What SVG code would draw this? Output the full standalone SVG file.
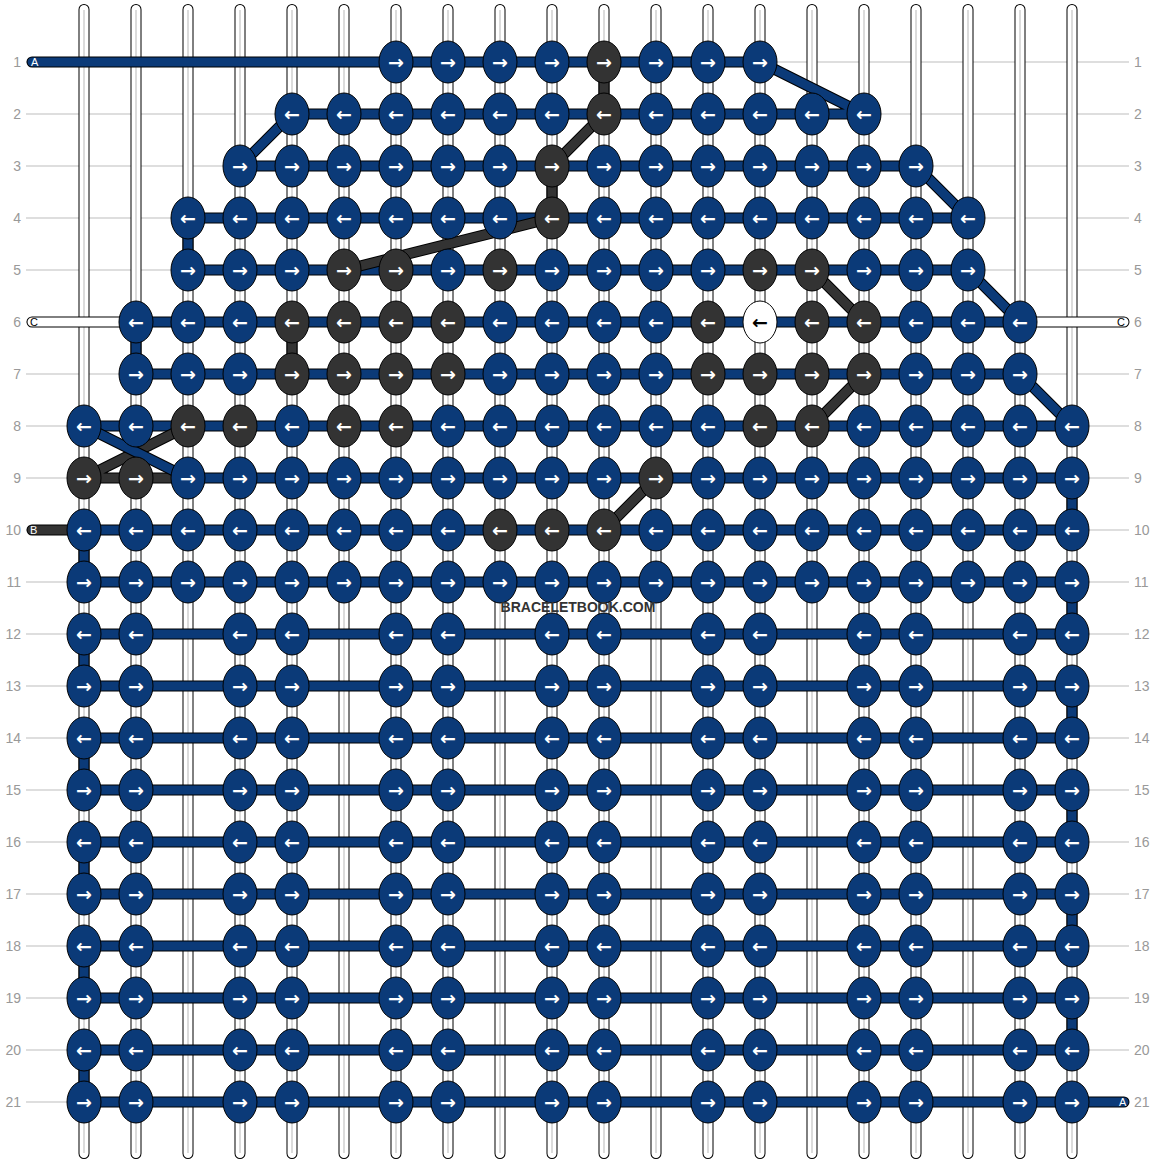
<svg xmlns="http://www.w3.org/2000/svg" xmlns:xlink="http://www.w3.org/1999/xlink" width="1156" height="1164" viewBox="0 0 1156 1164">
<style>
.gl line{stroke:#bdbdbd;stroke-width:1}
.rl text{font-family:'Liberation Sans',Arial,sans-serif;font-size:14px;fill:#999;dominant-baseline:central}
.so{stroke:#000;stroke-width:11;stroke-linecap:round;fill:none}
.sw{stroke:#fff;stroke-width:9;stroke-linecap:round;fill:none}
.sc{stroke:#cfcfcf;stroke-width:1.5;fill:none}
.to{stroke:#000;stroke-width:11;stroke-linecap:round;stroke-linejoin:round;fill:none}
.tb{stroke:#0b3a78;stroke-width:9;stroke-linecap:round;stroke-linejoin:round;fill:none}
.td{stroke:#333;stroke-width:9;stroke-linecap:round;stroke-linejoin:round;fill:none}
.tw{stroke:#fff;stroke-width:9;stroke-linecap:round;stroke-linejoin:round;fill:none}
.tl{font-family:'Liberation Sans',Arial,sans-serif;font-size:11px;dominant-baseline:central}
.n ellipse{stroke:#000;stroke-width:1}
.b ellipse{fill:#0b3a78}
.d ellipse{fill:#333}
.w ellipse{fill:#fff}
.n text{font-family:'DejaVu Sans',sans-serif;font-weight:bold;font-size:19px;fill:#fff;text-anchor:middle;dominant-baseline:central}
.w text{fill:#000}
</style>
<defs>
<path id="pb" d="M32,62H760L864,114H292L240,166H916L968,218H188V270H968L1020,322H136V374H1020L1072,426H84M188,478H1072V530H84V582H1072V634H84V686H1072V738H84V790H1072V842H84V894H1072V946H84V998H1072V1050H84V1102H1124"/>
<path id="pd" d="M604,62V114L552,166V218L344,270M292,322V374M812,270L864,322M864,374L812,426M656,478L604,530M32,530H84M84,478H188M84,478L188,426"/>
<path id="px" d="M84,426L188,478"/>
<path id="pw" d="M32,322H136M1020,322H1124"/>
<path id="ps" d="M84,9.5V1153.5M136,9.5V1153.5M188,9.5V1153.5M240,9.5V1153.5M292,9.5V1153.5M344,9.5V1153.5M396,9.5V1153.5M448,9.5V1153.5M500,9.5V1153.5M552,9.5V1153.5M604,9.5V1153.5M656,9.5V1153.5M708,9.5V1153.5M760,9.5V1153.5M812,9.5V1153.5M864,9.5V1153.5M916,9.5V1153.5M968,9.5V1153.5M1020,9.5V1153.5M1072,9.5V1153.5"/>
<path id="pc" d="M84,10V1153M136,10V1153M188,10V1153M240,10V1153M292,10V1153M344,10V1153M396,10V1153M448,10V1153M500,10V1153M552,10V1153M604,10V1153M656,10V1153M708,10V1153M760,10V1153M812,10V1153M864,10V1153M916,10V1153M968,10V1153M1020,10V1153M1072,10V1153"/>
</defs>
<rect width="1156" height="1164" fill="#fff"/>
<g class="gl">
<line x1="26" y1="62" x2="1129" y2="62"/><line x1="26" y1="114" x2="1129" y2="114"/><line x1="26" y1="166" x2="1129" y2="166"/><line x1="26" y1="218" x2="1129" y2="218"/><line x1="26" y1="270" x2="1129" y2="270"/><line x1="26" y1="322" x2="1129" y2="322"/><line x1="26" y1="374" x2="1129" y2="374"/><line x1="26" y1="426" x2="1129" y2="426"/><line x1="26" y1="478" x2="1129" y2="478"/><line x1="26" y1="530" x2="1129" y2="530"/><line x1="26" y1="582" x2="1129" y2="582"/><line x1="26" y1="634" x2="1129" y2="634"/><line x1="26" y1="686" x2="1129" y2="686"/><line x1="26" y1="738" x2="1129" y2="738"/><line x1="26" y1="790" x2="1129" y2="790"/><line x1="26" y1="842" x2="1129" y2="842"/><line x1="26" y1="894" x2="1129" y2="894"/><line x1="26" y1="946" x2="1129" y2="946"/><line x1="26" y1="998" x2="1129" y2="998"/><line x1="26" y1="1050" x2="1129" y2="1050"/><line x1="26" y1="1102" x2="1129" y2="1102"/>
</g>
<g class="rl">
<g text-anchor="end">
<text x="21" y="62">1</text><text x="21" y="114">2</text><text x="21" y="166">3</text><text x="21" y="218">4</text><text x="21" y="270">5</text><text x="21" y="322">6</text><text x="21" y="374">7</text><text x="21" y="426">8</text><text x="21" y="478">9</text><text x="21" y="530">10</text><text x="21" y="582">11</text><text x="21" y="634">12</text><text x="21" y="686">13</text><text x="21" y="738">14</text><text x="21" y="790">15</text><text x="21" y="842">16</text><text x="21" y="894">17</text><text x="21" y="946">18</text><text x="21" y="998">19</text><text x="21" y="1050">20</text><text x="21" y="1102">21</text>
</g>
<g text-anchor="start">
<text x="1134" y="62">1</text><text x="1134" y="114">2</text><text x="1134" y="166">3</text><text x="1134" y="218">4</text><text x="1134" y="270">5</text><text x="1134" y="322">6</text><text x="1134" y="374">7</text><text x="1134" y="426">8</text><text x="1134" y="478">9</text><text x="1134" y="530">10</text><text x="1134" y="582">11</text><text x="1134" y="634">12</text><text x="1134" y="686">13</text><text x="1134" y="738">14</text><text x="1134" y="790">15</text><text x="1134" y="842">16</text><text x="1134" y="894">17</text><text x="1134" y="946">18</text><text x="1134" y="998">19</text><text x="1134" y="1050">20</text><text x="1134" y="1102">21</text>
</g>
</g>
<g id="strings">
<use xlink:href="#ps" class="so"/><use xlink:href="#ps" class="sw"/><use xlink:href="#pc" class="sc"/>
</g>
<g id="connectors">
<use xlink:href="#pw" class="to"/><use xlink:href="#pw" class="tw"/>
<use xlink:href="#pb" class="to"/><use xlink:href="#pb" class="tb"/>
<use xlink:href="#pd" class="to"/><use xlink:href="#pd" class="td"/>
<use xlink:href="#px" class="to"/><use xlink:href="#px" class="tb"/>
<text class="tl" x="31" y="62" fill="#fff">A</text>
<text class="tl" x="30" y="322" fill="#000">C</text>
<text class="tl" x="30" y="530" fill="#fff">B</text>
<text class="tl" x="1117" y="322" fill="#000">C</text>
<text class="tl" x="1119" y="1102" fill="#fff">A</text>
</g>
<g id="nodes">
<g id="k1-6" class="n b" transform="translate(396,62)"><ellipse rx="17" ry="21"/><text>→</text></g>
<g id="k1-7" class="n b" transform="translate(448,62)"><ellipse rx="17" ry="21"/><text>→</text></g>
<g id="k1-8" class="n b" transform="translate(500,62)"><ellipse rx="17" ry="21"/><text>→</text></g>
<g id="k1-9" class="n b" transform="translate(552,62)"><ellipse rx="17" ry="21"/><text>→</text></g>
<g id="k1-10" class="n d" transform="translate(604,62)"><ellipse rx="17" ry="21"/><text>→</text></g>
<g id="k1-11" class="n b" transform="translate(656,62)"><ellipse rx="17" ry="21"/><text>→</text></g>
<g id="k1-12" class="n b" transform="translate(708,62)"><ellipse rx="17" ry="21"/><text>→</text></g>
<g id="k1-13" class="n b" transform="translate(760,62)"><ellipse rx="17" ry="21"/><text>→</text></g>
<g id="k2-4" class="n b" transform="translate(292,114)"><ellipse rx="17" ry="21"/><text>←</text></g>
<g id="k2-5" class="n b" transform="translate(344,114)"><ellipse rx="17" ry="21"/><text>←</text></g>
<g id="k2-6" class="n b" transform="translate(396,114)"><ellipse rx="17" ry="21"/><text>←</text></g>
<g id="k2-7" class="n b" transform="translate(448,114)"><ellipse rx="17" ry="21"/><text>←</text></g>
<g id="k2-8" class="n b" transform="translate(500,114)"><ellipse rx="17" ry="21"/><text>←</text></g>
<g id="k2-9" class="n b" transform="translate(552,114)"><ellipse rx="17" ry="21"/><text>←</text></g>
<g id="k2-10" class="n d" transform="translate(604,114)"><ellipse rx="17" ry="21"/><text>←</text></g>
<g id="k2-11" class="n b" transform="translate(656,114)"><ellipse rx="17" ry="21"/><text>←</text></g>
<g id="k2-12" class="n b" transform="translate(708,114)"><ellipse rx="17" ry="21"/><text>←</text></g>
<g id="k2-13" class="n b" transform="translate(760,114)"><ellipse rx="17" ry="21"/><text>←</text></g>
<g id="k2-14" class="n b" transform="translate(812,114)"><ellipse rx="17" ry="21"/><text>←</text></g>
<g id="k2-15" class="n b" transform="translate(864,114)"><ellipse rx="17" ry="21"/><text>←</text></g>
<g id="k3-3" class="n b" transform="translate(240,166)"><ellipse rx="17" ry="21"/><text>→</text></g>
<g id="k3-4" class="n b" transform="translate(292,166)"><ellipse rx="17" ry="21"/><text>→</text></g>
<g id="k3-5" class="n b" transform="translate(344,166)"><ellipse rx="17" ry="21"/><text>→</text></g>
<g id="k3-6" class="n b" transform="translate(396,166)"><ellipse rx="17" ry="21"/><text>→</text></g>
<g id="k3-7" class="n b" transform="translate(448,166)"><ellipse rx="17" ry="21"/><text>→</text></g>
<g id="k3-8" class="n b" transform="translate(500,166)"><ellipse rx="17" ry="21"/><text>→</text></g>
<g id="k3-9" class="n d" transform="translate(552,166)"><ellipse rx="17" ry="21"/><text>→</text></g>
<g id="k3-10" class="n b" transform="translate(604,166)"><ellipse rx="17" ry="21"/><text>→</text></g>
<g id="k3-11" class="n b" transform="translate(656,166)"><ellipse rx="17" ry="21"/><text>→</text></g>
<g id="k3-12" class="n b" transform="translate(708,166)"><ellipse rx="17" ry="21"/><text>→</text></g>
<g id="k3-13" class="n b" transform="translate(760,166)"><ellipse rx="17" ry="21"/><text>→</text></g>
<g id="k3-14" class="n b" transform="translate(812,166)"><ellipse rx="17" ry="21"/><text>→</text></g>
<g id="k3-15" class="n b" transform="translate(864,166)"><ellipse rx="17" ry="21"/><text>→</text></g>
<g id="k3-16" class="n b" transform="translate(916,166)"><ellipse rx="17" ry="21"/><text>→</text></g>
<g id="k4-2" class="n b" transform="translate(188,218)"><ellipse rx="17" ry="21"/><text>←</text></g>
<g id="k4-3" class="n b" transform="translate(240,218)"><ellipse rx="17" ry="21"/><text>←</text></g>
<g id="k4-4" class="n b" transform="translate(292,218)"><ellipse rx="17" ry="21"/><text>←</text></g>
<g id="k4-5" class="n b" transform="translate(344,218)"><ellipse rx="17" ry="21"/><text>←</text></g>
<g id="k4-6" class="n b" transform="translate(396,218)"><ellipse rx="17" ry="21"/><text>←</text></g>
<g id="k4-7" class="n b" transform="translate(448,218)"><ellipse rx="17" ry="21"/><text>←</text></g>
<g id="k4-8" class="n b" transform="translate(500,218)"><ellipse rx="17" ry="21"/><text>←</text></g>
<g id="k4-9" class="n d" transform="translate(552,218)"><ellipse rx="17" ry="21"/><text>←</text></g>
<g id="k4-10" class="n b" transform="translate(604,218)"><ellipse rx="17" ry="21"/><text>←</text></g>
<g id="k4-11" class="n b" transform="translate(656,218)"><ellipse rx="17" ry="21"/><text>←</text></g>
<g id="k4-12" class="n b" transform="translate(708,218)"><ellipse rx="17" ry="21"/><text>←</text></g>
<g id="k4-13" class="n b" transform="translate(760,218)"><ellipse rx="17" ry="21"/><text>←</text></g>
<g id="k4-14" class="n b" transform="translate(812,218)"><ellipse rx="17" ry="21"/><text>←</text></g>
<g id="k4-15" class="n b" transform="translate(864,218)"><ellipse rx="17" ry="21"/><text>←</text></g>
<g id="k4-16" class="n b" transform="translate(916,218)"><ellipse rx="17" ry="21"/><text>←</text></g>
<g id="k4-17" class="n b" transform="translate(968,218)"><ellipse rx="17" ry="21"/><text>←</text></g>
<g id="k5-2" class="n b" transform="translate(188,270)"><ellipse rx="17" ry="21"/><text>→</text></g>
<g id="k5-3" class="n b" transform="translate(240,270)"><ellipse rx="17" ry="21"/><text>→</text></g>
<g id="k5-4" class="n b" transform="translate(292,270)"><ellipse rx="17" ry="21"/><text>→</text></g>
<g id="k5-5" class="n d" transform="translate(344,270)"><ellipse rx="17" ry="21"/><text>→</text></g>
<g id="k5-6" class="n d" transform="translate(396,270)"><ellipse rx="17" ry="21"/><text>→</text></g>
<g id="k5-7" class="n b" transform="translate(448,270)"><ellipse rx="17" ry="21"/><text>→</text></g>
<g id="k5-8" class="n d" transform="translate(500,270)"><ellipse rx="17" ry="21"/><text>→</text></g>
<g id="k5-9" class="n b" transform="translate(552,270)"><ellipse rx="17" ry="21"/><text>→</text></g>
<g id="k5-10" class="n b" transform="translate(604,270)"><ellipse rx="17" ry="21"/><text>→</text></g>
<g id="k5-11" class="n b" transform="translate(656,270)"><ellipse rx="17" ry="21"/><text>→</text></g>
<g id="k5-12" class="n b" transform="translate(708,270)"><ellipse rx="17" ry="21"/><text>→</text></g>
<g id="k5-13" class="n d" transform="translate(760,270)"><ellipse rx="17" ry="21"/><text>→</text></g>
<g id="k5-14" class="n d" transform="translate(812,270)"><ellipse rx="17" ry="21"/><text>→</text></g>
<g id="k5-15" class="n b" transform="translate(864,270)"><ellipse rx="17" ry="21"/><text>→</text></g>
<g id="k5-16" class="n b" transform="translate(916,270)"><ellipse rx="17" ry="21"/><text>→</text></g>
<g id="k5-17" class="n b" transform="translate(968,270)"><ellipse rx="17" ry="21"/><text>→</text></g>
<g id="k6-1" class="n b" transform="translate(136,322)"><ellipse rx="17" ry="21"/><text>←</text></g>
<g id="k6-2" class="n b" transform="translate(188,322)"><ellipse rx="17" ry="21"/><text>←</text></g>
<g id="k6-3" class="n b" transform="translate(240,322)"><ellipse rx="17" ry="21"/><text>←</text></g>
<g id="k6-4" class="n d" transform="translate(292,322)"><ellipse rx="17" ry="21"/><text>←</text></g>
<g id="k6-5" class="n d" transform="translate(344,322)"><ellipse rx="17" ry="21"/><text>←</text></g>
<g id="k6-6" class="n d" transform="translate(396,322)"><ellipse rx="17" ry="21"/><text>←</text></g>
<g id="k6-7" class="n d" transform="translate(448,322)"><ellipse rx="17" ry="21"/><text>←</text></g>
<g id="k6-8" class="n b" transform="translate(500,322)"><ellipse rx="17" ry="21"/><text>←</text></g>
<g id="k6-9" class="n b" transform="translate(552,322)"><ellipse rx="17" ry="21"/><text>←</text></g>
<g id="k6-10" class="n b" transform="translate(604,322)"><ellipse rx="17" ry="21"/><text>←</text></g>
<g id="k6-11" class="n b" transform="translate(656,322)"><ellipse rx="17" ry="21"/><text>←</text></g>
<g id="k6-12" class="n d" transform="translate(708,322)"><ellipse rx="17" ry="21"/><text>←</text></g>
<g id="k6-13" class="n w" transform="translate(760,322)"><ellipse rx="17" ry="21"/><text>←</text></g>
<g id="k6-14" class="n d" transform="translate(812,322)"><ellipse rx="17" ry="21"/><text>←</text></g>
<g id="k6-15" class="n d" transform="translate(864,322)"><ellipse rx="17" ry="21"/><text>←</text></g>
<g id="k6-16" class="n b" transform="translate(916,322)"><ellipse rx="17" ry="21"/><text>←</text></g>
<g id="k6-17" class="n b" transform="translate(968,322)"><ellipse rx="17" ry="21"/><text>←</text></g>
<g id="k6-18" class="n b" transform="translate(1020,322)"><ellipse rx="17" ry="21"/><text>←</text></g>
<g id="k7-1" class="n b" transform="translate(136,374)"><ellipse rx="17" ry="21"/><text>→</text></g>
<g id="k7-2" class="n b" transform="translate(188,374)"><ellipse rx="17" ry="21"/><text>→</text></g>
<g id="k7-3" class="n b" transform="translate(240,374)"><ellipse rx="17" ry="21"/><text>→</text></g>
<g id="k7-4" class="n d" transform="translate(292,374)"><ellipse rx="17" ry="21"/><text>→</text></g>
<g id="k7-5" class="n d" transform="translate(344,374)"><ellipse rx="17" ry="21"/><text>→</text></g>
<g id="k7-6" class="n d" transform="translate(396,374)"><ellipse rx="17" ry="21"/><text>→</text></g>
<g id="k7-7" class="n d" transform="translate(448,374)"><ellipse rx="17" ry="21"/><text>→</text></g>
<g id="k7-8" class="n b" transform="translate(500,374)"><ellipse rx="17" ry="21"/><text>→</text></g>
<g id="k7-9" class="n b" transform="translate(552,374)"><ellipse rx="17" ry="21"/><text>→</text></g>
<g id="k7-10" class="n b" transform="translate(604,374)"><ellipse rx="17" ry="21"/><text>→</text></g>
<g id="k7-11" class="n b" transform="translate(656,374)"><ellipse rx="17" ry="21"/><text>→</text></g>
<g id="k7-12" class="n d" transform="translate(708,374)"><ellipse rx="17" ry="21"/><text>→</text></g>
<g id="k7-13" class="n d" transform="translate(760,374)"><ellipse rx="17" ry="21"/><text>→</text></g>
<g id="k7-14" class="n d" transform="translate(812,374)"><ellipse rx="17" ry="21"/><text>→</text></g>
<g id="k7-15" class="n d" transform="translate(864,374)"><ellipse rx="17" ry="21"/><text>→</text></g>
<g id="k7-16" class="n b" transform="translate(916,374)"><ellipse rx="17" ry="21"/><text>→</text></g>
<g id="k7-17" class="n b" transform="translate(968,374)"><ellipse rx="17" ry="21"/><text>→</text></g>
<g id="k7-18" class="n b" transform="translate(1020,374)"><ellipse rx="17" ry="21"/><text>→</text></g>
<g id="k8-0" class="n b" transform="translate(84,426)"><ellipse rx="17" ry="21"/><text>←</text></g>
<g id="k8-1" class="n b" transform="translate(136,426)"><ellipse rx="17" ry="21"/><text>←</text></g>
<g id="k8-2" class="n d" transform="translate(188,426)"><ellipse rx="17" ry="21"/><text>←</text></g>
<g id="k8-3" class="n d" transform="translate(240,426)"><ellipse rx="17" ry="21"/><text>←</text></g>
<g id="k8-4" class="n b" transform="translate(292,426)"><ellipse rx="17" ry="21"/><text>←</text></g>
<g id="k8-5" class="n d" transform="translate(344,426)"><ellipse rx="17" ry="21"/><text>←</text></g>
<g id="k8-6" class="n d" transform="translate(396,426)"><ellipse rx="17" ry="21"/><text>←</text></g>
<g id="k8-7" class="n b" transform="translate(448,426)"><ellipse rx="17" ry="21"/><text>←</text></g>
<g id="k8-8" class="n b" transform="translate(500,426)"><ellipse rx="17" ry="21"/><text>←</text></g>
<g id="k8-9" class="n b" transform="translate(552,426)"><ellipse rx="17" ry="21"/><text>←</text></g>
<g id="k8-10" class="n b" transform="translate(604,426)"><ellipse rx="17" ry="21"/><text>←</text></g>
<g id="k8-11" class="n b" transform="translate(656,426)"><ellipse rx="17" ry="21"/><text>←</text></g>
<g id="k8-12" class="n b" transform="translate(708,426)"><ellipse rx="17" ry="21"/><text>←</text></g>
<g id="k8-13" class="n d" transform="translate(760,426)"><ellipse rx="17" ry="21"/><text>←</text></g>
<g id="k8-14" class="n d" transform="translate(812,426)"><ellipse rx="17" ry="21"/><text>←</text></g>
<g id="k8-15" class="n b" transform="translate(864,426)"><ellipse rx="17" ry="21"/><text>←</text></g>
<g id="k8-16" class="n b" transform="translate(916,426)"><ellipse rx="17" ry="21"/><text>←</text></g>
<g id="k8-17" class="n b" transform="translate(968,426)"><ellipse rx="17" ry="21"/><text>←</text></g>
<g id="k8-18" class="n b" transform="translate(1020,426)"><ellipse rx="17" ry="21"/><text>←</text></g>
<g id="k8-19" class="n b" transform="translate(1072,426)"><ellipse rx="17" ry="21"/><text>←</text></g>
<g id="k9-0" class="n d" transform="translate(84,478)"><ellipse rx="17" ry="21"/><text>→</text></g>
<g id="k9-1" class="n d" transform="translate(136,478)"><ellipse rx="17" ry="21"/><text>→</text></g>
<g id="k9-2" class="n b" transform="translate(188,478)"><ellipse rx="17" ry="21"/><text>→</text></g>
<g id="k9-3" class="n b" transform="translate(240,478)"><ellipse rx="17" ry="21"/><text>→</text></g>
<g id="k9-4" class="n b" transform="translate(292,478)"><ellipse rx="17" ry="21"/><text>→</text></g>
<g id="k9-5" class="n b" transform="translate(344,478)"><ellipse rx="17" ry="21"/><text>→</text></g>
<g id="k9-6" class="n b" transform="translate(396,478)"><ellipse rx="17" ry="21"/><text>→</text></g>
<g id="k9-7" class="n b" transform="translate(448,478)"><ellipse rx="17" ry="21"/><text>→</text></g>
<g id="k9-8" class="n b" transform="translate(500,478)"><ellipse rx="17" ry="21"/><text>→</text></g>
<g id="k9-9" class="n b" transform="translate(552,478)"><ellipse rx="17" ry="21"/><text>→</text></g>
<g id="k9-10" class="n b" transform="translate(604,478)"><ellipse rx="17" ry="21"/><text>→</text></g>
<g id="k9-11" class="n d" transform="translate(656,478)"><ellipse rx="17" ry="21"/><text>→</text></g>
<g id="k9-12" class="n b" transform="translate(708,478)"><ellipse rx="17" ry="21"/><text>→</text></g>
<g id="k9-13" class="n b" transform="translate(760,478)"><ellipse rx="17" ry="21"/><text>→</text></g>
<g id="k9-14" class="n b" transform="translate(812,478)"><ellipse rx="17" ry="21"/><text>→</text></g>
<g id="k9-15" class="n b" transform="translate(864,478)"><ellipse rx="17" ry="21"/><text>→</text></g>
<g id="k9-16" class="n b" transform="translate(916,478)"><ellipse rx="17" ry="21"/><text>→</text></g>
<g id="k9-17" class="n b" transform="translate(968,478)"><ellipse rx="17" ry="21"/><text>→</text></g>
<g id="k9-18" class="n b" transform="translate(1020,478)"><ellipse rx="17" ry="21"/><text>→</text></g>
<g id="k9-19" class="n b" transform="translate(1072,478)"><ellipse rx="17" ry="21"/><text>→</text></g>
<g id="k10-0" class="n b" transform="translate(84,530)"><ellipse rx="17" ry="21"/><text>←</text></g>
<g id="k10-1" class="n b" transform="translate(136,530)"><ellipse rx="17" ry="21"/><text>←</text></g>
<g id="k10-2" class="n b" transform="translate(188,530)"><ellipse rx="17" ry="21"/><text>←</text></g>
<g id="k10-3" class="n b" transform="translate(240,530)"><ellipse rx="17" ry="21"/><text>←</text></g>
<g id="k10-4" class="n b" transform="translate(292,530)"><ellipse rx="17" ry="21"/><text>←</text></g>
<g id="k10-5" class="n b" transform="translate(344,530)"><ellipse rx="17" ry="21"/><text>←</text></g>
<g id="k10-6" class="n b" transform="translate(396,530)"><ellipse rx="17" ry="21"/><text>←</text></g>
<g id="k10-7" class="n b" transform="translate(448,530)"><ellipse rx="17" ry="21"/><text>←</text></g>
<g id="k10-8" class="n d" transform="translate(500,530)"><ellipse rx="17" ry="21"/><text>←</text></g>
<g id="k10-9" class="n d" transform="translate(552,530)"><ellipse rx="17" ry="21"/><text>←</text></g>
<g id="k10-10" class="n d" transform="translate(604,530)"><ellipse rx="17" ry="21"/><text>←</text></g>
<g id="k10-11" class="n b" transform="translate(656,530)"><ellipse rx="17" ry="21"/><text>←</text></g>
<g id="k10-12" class="n b" transform="translate(708,530)"><ellipse rx="17" ry="21"/><text>←</text></g>
<g id="k10-13" class="n b" transform="translate(760,530)"><ellipse rx="17" ry="21"/><text>←</text></g>
<g id="k10-14" class="n b" transform="translate(812,530)"><ellipse rx="17" ry="21"/><text>←</text></g>
<g id="k10-15" class="n b" transform="translate(864,530)"><ellipse rx="17" ry="21"/><text>←</text></g>
<g id="k10-16" class="n b" transform="translate(916,530)"><ellipse rx="17" ry="21"/><text>←</text></g>
<g id="k10-17" class="n b" transform="translate(968,530)"><ellipse rx="17" ry="21"/><text>←</text></g>
<g id="k10-18" class="n b" transform="translate(1020,530)"><ellipse rx="17" ry="21"/><text>←</text></g>
<g id="k10-19" class="n b" transform="translate(1072,530)"><ellipse rx="17" ry="21"/><text>←</text></g>
<g id="k11-0" class="n b" transform="translate(84,582)"><ellipse rx="17" ry="21"/><text>→</text></g>
<g id="k11-1" class="n b" transform="translate(136,582)"><ellipse rx="17" ry="21"/><text>→</text></g>
<g id="k11-2" class="n b" transform="translate(188,582)"><ellipse rx="17" ry="21"/><text>→</text></g>
<g id="k11-3" class="n b" transform="translate(240,582)"><ellipse rx="17" ry="21"/><text>→</text></g>
<g id="k11-4" class="n b" transform="translate(292,582)"><ellipse rx="17" ry="21"/><text>→</text></g>
<g id="k11-5" class="n b" transform="translate(344,582)"><ellipse rx="17" ry="21"/><text>→</text></g>
<g id="k11-6" class="n b" transform="translate(396,582)"><ellipse rx="17" ry="21"/><text>→</text></g>
<g id="k11-7" class="n b" transform="translate(448,582)"><ellipse rx="17" ry="21"/><text>→</text></g>
<g id="k11-8" class="n b" transform="translate(500,582)"><ellipse rx="17" ry="21"/><text>→</text></g>
<g id="k11-9" class="n b" transform="translate(552,582)"><ellipse rx="17" ry="21"/><text>→</text></g>
<g id="k11-10" class="n b" transform="translate(604,582)"><ellipse rx="17" ry="21"/><text>→</text></g>
<g id="k11-11" class="n b" transform="translate(656,582)"><ellipse rx="17" ry="21"/><text>→</text></g>
<g id="k11-12" class="n b" transform="translate(708,582)"><ellipse rx="17" ry="21"/><text>→</text></g>
<g id="k11-13" class="n b" transform="translate(760,582)"><ellipse rx="17" ry="21"/><text>→</text></g>
<g id="k11-14" class="n b" transform="translate(812,582)"><ellipse rx="17" ry="21"/><text>→</text></g>
<g id="k11-15" class="n b" transform="translate(864,582)"><ellipse rx="17" ry="21"/><text>→</text></g>
<g id="k11-16" class="n b" transform="translate(916,582)"><ellipse rx="17" ry="21"/><text>→</text></g>
<g id="k11-17" class="n b" transform="translate(968,582)"><ellipse rx="17" ry="21"/><text>→</text></g>
<g id="k11-18" class="n b" transform="translate(1020,582)"><ellipse rx="17" ry="21"/><text>→</text></g>
<g id="k11-19" class="n b" transform="translate(1072,582)"><ellipse rx="17" ry="21"/><text>→</text></g>
<g id="k12-0" class="n b" transform="translate(84,634)"><ellipse rx="17" ry="21"/><text>←</text></g>
<g id="k12-1" class="n b" transform="translate(136,634)"><ellipse rx="17" ry="21"/><text>←</text></g>
<g id="k12-3" class="n b" transform="translate(240,634)"><ellipse rx="17" ry="21"/><text>←</text></g>
<g id="k12-4" class="n b" transform="translate(292,634)"><ellipse rx="17" ry="21"/><text>←</text></g>
<g id="k12-6" class="n b" transform="translate(396,634)"><ellipse rx="17" ry="21"/><text>←</text></g>
<g id="k12-7" class="n b" transform="translate(448,634)"><ellipse rx="17" ry="21"/><text>←</text></g>
<g id="k12-9" class="n b" transform="translate(552,634)"><ellipse rx="17" ry="21"/><text>←</text></g>
<g id="k12-10" class="n b" transform="translate(604,634)"><ellipse rx="17" ry="21"/><text>←</text></g>
<g id="k12-12" class="n b" transform="translate(708,634)"><ellipse rx="17" ry="21"/><text>←</text></g>
<g id="k12-13" class="n b" transform="translate(760,634)"><ellipse rx="17" ry="21"/><text>←</text></g>
<g id="k12-15" class="n b" transform="translate(864,634)"><ellipse rx="17" ry="21"/><text>←</text></g>
<g id="k12-16" class="n b" transform="translate(916,634)"><ellipse rx="17" ry="21"/><text>←</text></g>
<g id="k12-18" class="n b" transform="translate(1020,634)"><ellipse rx="17" ry="21"/><text>←</text></g>
<g id="k12-19" class="n b" transform="translate(1072,634)"><ellipse rx="17" ry="21"/><text>←</text></g>
<g id="k13-0" class="n b" transform="translate(84,686)"><ellipse rx="17" ry="21"/><text>→</text></g>
<g id="k13-1" class="n b" transform="translate(136,686)"><ellipse rx="17" ry="21"/><text>→</text></g>
<g id="k13-3" class="n b" transform="translate(240,686)"><ellipse rx="17" ry="21"/><text>→</text></g>
<g id="k13-4" class="n b" transform="translate(292,686)"><ellipse rx="17" ry="21"/><text>→</text></g>
<g id="k13-6" class="n b" transform="translate(396,686)"><ellipse rx="17" ry="21"/><text>→</text></g>
<g id="k13-7" class="n b" transform="translate(448,686)"><ellipse rx="17" ry="21"/><text>→</text></g>
<g id="k13-9" class="n b" transform="translate(552,686)"><ellipse rx="17" ry="21"/><text>→</text></g>
<g id="k13-10" class="n b" transform="translate(604,686)"><ellipse rx="17" ry="21"/><text>→</text></g>
<g id="k13-12" class="n b" transform="translate(708,686)"><ellipse rx="17" ry="21"/><text>→</text></g>
<g id="k13-13" class="n b" transform="translate(760,686)"><ellipse rx="17" ry="21"/><text>→</text></g>
<g id="k13-15" class="n b" transform="translate(864,686)"><ellipse rx="17" ry="21"/><text>→</text></g>
<g id="k13-16" class="n b" transform="translate(916,686)"><ellipse rx="17" ry="21"/><text>→</text></g>
<g id="k13-18" class="n b" transform="translate(1020,686)"><ellipse rx="17" ry="21"/><text>→</text></g>
<g id="k13-19" class="n b" transform="translate(1072,686)"><ellipse rx="17" ry="21"/><text>→</text></g>
<g id="k14-0" class="n b" transform="translate(84,738)"><ellipse rx="17" ry="21"/><text>←</text></g>
<g id="k14-1" class="n b" transform="translate(136,738)"><ellipse rx="17" ry="21"/><text>←</text></g>
<g id="k14-3" class="n b" transform="translate(240,738)"><ellipse rx="17" ry="21"/><text>←</text></g>
<g id="k14-4" class="n b" transform="translate(292,738)"><ellipse rx="17" ry="21"/><text>←</text></g>
<g id="k14-6" class="n b" transform="translate(396,738)"><ellipse rx="17" ry="21"/><text>←</text></g>
<g id="k14-7" class="n b" transform="translate(448,738)"><ellipse rx="17" ry="21"/><text>←</text></g>
<g id="k14-9" class="n b" transform="translate(552,738)"><ellipse rx="17" ry="21"/><text>←</text></g>
<g id="k14-10" class="n b" transform="translate(604,738)"><ellipse rx="17" ry="21"/><text>←</text></g>
<g id="k14-12" class="n b" transform="translate(708,738)"><ellipse rx="17" ry="21"/><text>←</text></g>
<g id="k14-13" class="n b" transform="translate(760,738)"><ellipse rx="17" ry="21"/><text>←</text></g>
<g id="k14-15" class="n b" transform="translate(864,738)"><ellipse rx="17" ry="21"/><text>←</text></g>
<g id="k14-16" class="n b" transform="translate(916,738)"><ellipse rx="17" ry="21"/><text>←</text></g>
<g id="k14-18" class="n b" transform="translate(1020,738)"><ellipse rx="17" ry="21"/><text>←</text></g>
<g id="k14-19" class="n b" transform="translate(1072,738)"><ellipse rx="17" ry="21"/><text>←</text></g>
<g id="k15-0" class="n b" transform="translate(84,790)"><ellipse rx="17" ry="21"/><text>→</text></g>
<g id="k15-1" class="n b" transform="translate(136,790)"><ellipse rx="17" ry="21"/><text>→</text></g>
<g id="k15-3" class="n b" transform="translate(240,790)"><ellipse rx="17" ry="21"/><text>→</text></g>
<g id="k15-4" class="n b" transform="translate(292,790)"><ellipse rx="17" ry="21"/><text>→</text></g>
<g id="k15-6" class="n b" transform="translate(396,790)"><ellipse rx="17" ry="21"/><text>→</text></g>
<g id="k15-7" class="n b" transform="translate(448,790)"><ellipse rx="17" ry="21"/><text>→</text></g>
<g id="k15-9" class="n b" transform="translate(552,790)"><ellipse rx="17" ry="21"/><text>→</text></g>
<g id="k15-10" class="n b" transform="translate(604,790)"><ellipse rx="17" ry="21"/><text>→</text></g>
<g id="k15-12" class="n b" transform="translate(708,790)"><ellipse rx="17" ry="21"/><text>→</text></g>
<g id="k15-13" class="n b" transform="translate(760,790)"><ellipse rx="17" ry="21"/><text>→</text></g>
<g id="k15-15" class="n b" transform="translate(864,790)"><ellipse rx="17" ry="21"/><text>→</text></g>
<g id="k15-16" class="n b" transform="translate(916,790)"><ellipse rx="17" ry="21"/><text>→</text></g>
<g id="k15-18" class="n b" transform="translate(1020,790)"><ellipse rx="17" ry="21"/><text>→</text></g>
<g id="k15-19" class="n b" transform="translate(1072,790)"><ellipse rx="17" ry="21"/><text>→</text></g>
<g id="k16-0" class="n b" transform="translate(84,842)"><ellipse rx="17" ry="21"/><text>←</text></g>
<g id="k16-1" class="n b" transform="translate(136,842)"><ellipse rx="17" ry="21"/><text>←</text></g>
<g id="k16-3" class="n b" transform="translate(240,842)"><ellipse rx="17" ry="21"/><text>←</text></g>
<g id="k16-4" class="n b" transform="translate(292,842)"><ellipse rx="17" ry="21"/><text>←</text></g>
<g id="k16-6" class="n b" transform="translate(396,842)"><ellipse rx="17" ry="21"/><text>←</text></g>
<g id="k16-7" class="n b" transform="translate(448,842)"><ellipse rx="17" ry="21"/><text>←</text></g>
<g id="k16-9" class="n b" transform="translate(552,842)"><ellipse rx="17" ry="21"/><text>←</text></g>
<g id="k16-10" class="n b" transform="translate(604,842)"><ellipse rx="17" ry="21"/><text>←</text></g>
<g id="k16-12" class="n b" transform="translate(708,842)"><ellipse rx="17" ry="21"/><text>←</text></g>
<g id="k16-13" class="n b" transform="translate(760,842)"><ellipse rx="17" ry="21"/><text>←</text></g>
<g id="k16-15" class="n b" transform="translate(864,842)"><ellipse rx="17" ry="21"/><text>←</text></g>
<g id="k16-16" class="n b" transform="translate(916,842)"><ellipse rx="17" ry="21"/><text>←</text></g>
<g id="k16-18" class="n b" transform="translate(1020,842)"><ellipse rx="17" ry="21"/><text>←</text></g>
<g id="k16-19" class="n b" transform="translate(1072,842)"><ellipse rx="17" ry="21"/><text>←</text></g>
<g id="k17-0" class="n b" transform="translate(84,894)"><ellipse rx="17" ry="21"/><text>→</text></g>
<g id="k17-1" class="n b" transform="translate(136,894)"><ellipse rx="17" ry="21"/><text>→</text></g>
<g id="k17-3" class="n b" transform="translate(240,894)"><ellipse rx="17" ry="21"/><text>→</text></g>
<g id="k17-4" class="n b" transform="translate(292,894)"><ellipse rx="17" ry="21"/><text>→</text></g>
<g id="k17-6" class="n b" transform="translate(396,894)"><ellipse rx="17" ry="21"/><text>→</text></g>
<g id="k17-7" class="n b" transform="translate(448,894)"><ellipse rx="17" ry="21"/><text>→</text></g>
<g id="k17-9" class="n b" transform="translate(552,894)"><ellipse rx="17" ry="21"/><text>→</text></g>
<g id="k17-10" class="n b" transform="translate(604,894)"><ellipse rx="17" ry="21"/><text>→</text></g>
<g id="k17-12" class="n b" transform="translate(708,894)"><ellipse rx="17" ry="21"/><text>→</text></g>
<g id="k17-13" class="n b" transform="translate(760,894)"><ellipse rx="17" ry="21"/><text>→</text></g>
<g id="k17-15" class="n b" transform="translate(864,894)"><ellipse rx="17" ry="21"/><text>→</text></g>
<g id="k17-16" class="n b" transform="translate(916,894)"><ellipse rx="17" ry="21"/><text>→</text></g>
<g id="k17-18" class="n b" transform="translate(1020,894)"><ellipse rx="17" ry="21"/><text>→</text></g>
<g id="k17-19" class="n b" transform="translate(1072,894)"><ellipse rx="17" ry="21"/><text>→</text></g>
<g id="k18-0" class="n b" transform="translate(84,946)"><ellipse rx="17" ry="21"/><text>←</text></g>
<g id="k18-1" class="n b" transform="translate(136,946)"><ellipse rx="17" ry="21"/><text>←</text></g>
<g id="k18-3" class="n b" transform="translate(240,946)"><ellipse rx="17" ry="21"/><text>←</text></g>
<g id="k18-4" class="n b" transform="translate(292,946)"><ellipse rx="17" ry="21"/><text>←</text></g>
<g id="k18-6" class="n b" transform="translate(396,946)"><ellipse rx="17" ry="21"/><text>←</text></g>
<g id="k18-7" class="n b" transform="translate(448,946)"><ellipse rx="17" ry="21"/><text>←</text></g>
<g id="k18-9" class="n b" transform="translate(552,946)"><ellipse rx="17" ry="21"/><text>←</text></g>
<g id="k18-10" class="n b" transform="translate(604,946)"><ellipse rx="17" ry="21"/><text>←</text></g>
<g id="k18-12" class="n b" transform="translate(708,946)"><ellipse rx="17" ry="21"/><text>←</text></g>
<g id="k18-13" class="n b" transform="translate(760,946)"><ellipse rx="17" ry="21"/><text>←</text></g>
<g id="k18-15" class="n b" transform="translate(864,946)"><ellipse rx="17" ry="21"/><text>←</text></g>
<g id="k18-16" class="n b" transform="translate(916,946)"><ellipse rx="17" ry="21"/><text>←</text></g>
<g id="k18-18" class="n b" transform="translate(1020,946)"><ellipse rx="17" ry="21"/><text>←</text></g>
<g id="k18-19" class="n b" transform="translate(1072,946)"><ellipse rx="17" ry="21"/><text>←</text></g>
<g id="k19-0" class="n b" transform="translate(84,998)"><ellipse rx="17" ry="21"/><text>→</text></g>
<g id="k19-1" class="n b" transform="translate(136,998)"><ellipse rx="17" ry="21"/><text>→</text></g>
<g id="k19-3" class="n b" transform="translate(240,998)"><ellipse rx="17" ry="21"/><text>→</text></g>
<g id="k19-4" class="n b" transform="translate(292,998)"><ellipse rx="17" ry="21"/><text>→</text></g>
<g id="k19-6" class="n b" transform="translate(396,998)"><ellipse rx="17" ry="21"/><text>→</text></g>
<g id="k19-7" class="n b" transform="translate(448,998)"><ellipse rx="17" ry="21"/><text>→</text></g>
<g id="k19-9" class="n b" transform="translate(552,998)"><ellipse rx="17" ry="21"/><text>→</text></g>
<g id="k19-10" class="n b" transform="translate(604,998)"><ellipse rx="17" ry="21"/><text>→</text></g>
<g id="k19-12" class="n b" transform="translate(708,998)"><ellipse rx="17" ry="21"/><text>→</text></g>
<g id="k19-13" class="n b" transform="translate(760,998)"><ellipse rx="17" ry="21"/><text>→</text></g>
<g id="k19-15" class="n b" transform="translate(864,998)"><ellipse rx="17" ry="21"/><text>→</text></g>
<g id="k19-16" class="n b" transform="translate(916,998)"><ellipse rx="17" ry="21"/><text>→</text></g>
<g id="k19-18" class="n b" transform="translate(1020,998)"><ellipse rx="17" ry="21"/><text>→</text></g>
<g id="k19-19" class="n b" transform="translate(1072,998)"><ellipse rx="17" ry="21"/><text>→</text></g>
<g id="k20-0" class="n b" transform="translate(84,1050)"><ellipse rx="17" ry="21"/><text>←</text></g>
<g id="k20-1" class="n b" transform="translate(136,1050)"><ellipse rx="17" ry="21"/><text>←</text></g>
<g id="k20-3" class="n b" transform="translate(240,1050)"><ellipse rx="17" ry="21"/><text>←</text></g>
<g id="k20-4" class="n b" transform="translate(292,1050)"><ellipse rx="17" ry="21"/><text>←</text></g>
<g id="k20-6" class="n b" transform="translate(396,1050)"><ellipse rx="17" ry="21"/><text>←</text></g>
<g id="k20-7" class="n b" transform="translate(448,1050)"><ellipse rx="17" ry="21"/><text>←</text></g>
<g id="k20-9" class="n b" transform="translate(552,1050)"><ellipse rx="17" ry="21"/><text>←</text></g>
<g id="k20-10" class="n b" transform="translate(604,1050)"><ellipse rx="17" ry="21"/><text>←</text></g>
<g id="k20-12" class="n b" transform="translate(708,1050)"><ellipse rx="17" ry="21"/><text>←</text></g>
<g id="k20-13" class="n b" transform="translate(760,1050)"><ellipse rx="17" ry="21"/><text>←</text></g>
<g id="k20-15" class="n b" transform="translate(864,1050)"><ellipse rx="17" ry="21"/><text>←</text></g>
<g id="k20-16" class="n b" transform="translate(916,1050)"><ellipse rx="17" ry="21"/><text>←</text></g>
<g id="k20-18" class="n b" transform="translate(1020,1050)"><ellipse rx="17" ry="21"/><text>←</text></g>
<g id="k20-19" class="n b" transform="translate(1072,1050)"><ellipse rx="17" ry="21"/><text>←</text></g>
<g id="k21-0" class="n b" transform="translate(84,1102)"><ellipse rx="17" ry="21"/><text>→</text></g>
<g id="k21-1" class="n b" transform="translate(136,1102)"><ellipse rx="17" ry="21"/><text>→</text></g>
<g id="k21-3" class="n b" transform="translate(240,1102)"><ellipse rx="17" ry="21"/><text>→</text></g>
<g id="k21-4" class="n b" transform="translate(292,1102)"><ellipse rx="17" ry="21"/><text>→</text></g>
<g id="k21-6" class="n b" transform="translate(396,1102)"><ellipse rx="17" ry="21"/><text>→</text></g>
<g id="k21-7" class="n b" transform="translate(448,1102)"><ellipse rx="17" ry="21"/><text>→</text></g>
<g id="k21-9" class="n b" transform="translate(552,1102)"><ellipse rx="17" ry="21"/><text>→</text></g>
<g id="k21-10" class="n b" transform="translate(604,1102)"><ellipse rx="17" ry="21"/><text>→</text></g>
<g id="k21-12" class="n b" transform="translate(708,1102)"><ellipse rx="17" ry="21"/><text>→</text></g>
<g id="k21-13" class="n b" transform="translate(760,1102)"><ellipse rx="17" ry="21"/><text>→</text></g>
<g id="k21-15" class="n b" transform="translate(864,1102)"><ellipse rx="17" ry="21"/><text>→</text></g>
<g id="k21-16" class="n b" transform="translate(916,1102)"><ellipse rx="17" ry="21"/><text>→</text></g>
<g id="k21-18" class="n b" transform="translate(1020,1102)"><ellipse rx="17" ry="21"/><text>→</text></g>
<g id="k21-19" class="n b" transform="translate(1072,1102)"><ellipse rx="17" ry="21"/><text>→</text></g>
</g>
<text x="578" y="612" font-family="'Liberation Sans',Arial,sans-serif" font-weight="bold" font-size="14" fill="#333" text-anchor="middle">BRACELETBOOK.COM</text>
</svg>
